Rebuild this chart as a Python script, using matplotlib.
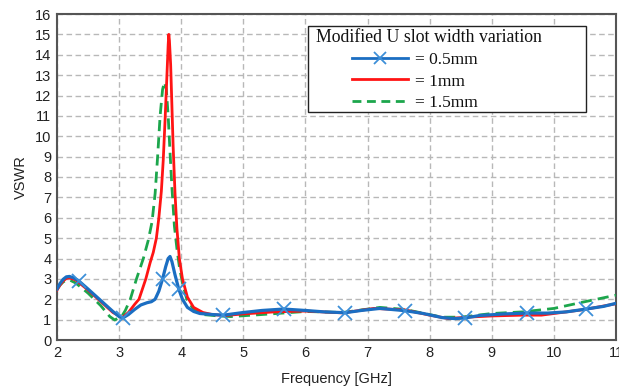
import matplotlib
matplotlib.use("Agg")
import matplotlib.pyplot as plt
from matplotlib.patches import Rectangle
from matplotlib.lines import Line2D

# ---- data -------------------------------------------------------------
blue_x = [2.0, 2.05, 2.1, 2.15, 2.2, 2.27, 2.35, 2.5, 2.7, 2.9, 3.0, 3.06, 3.15, 3.25,
          3.35, 3.45, 3.52, 3.58, 3.64, 3.7, 3.75, 3.79, 3.82, 3.85, 3.9, 3.96, 4.02,
          4.1, 4.2, 4.3, 4.5, 4.68, 5.0, 5.3, 5.65, 6.0, 6.3, 6.64, 6.9, 7.2, 7.6, 7.9,
          8.2, 8.4, 8.57, 8.8, 9.2, 9.57, 9.9, 10.2, 10.52, 10.8, 11.0]
blue_y = [2.5, 2.78, 2.98, 3.1, 3.12, 3.05, 2.9, 2.5, 1.95, 1.4, 1.15, 1.08, 1.25, 1.5,
          1.72, 1.83, 1.88, 2.0, 2.4, 3.0, 3.6, 4.0, 4.1, 3.85, 3.2, 2.5, 2.0,
          1.6, 1.4, 1.3, 1.25, 1.22, 1.35, 1.45, 1.52, 1.45, 1.38, 1.34, 1.45, 1.55, 1.44, 1.3,
          1.1, 1.05, 1.08, 1.2, 1.28, 1.32, 1.32, 1.38, 1.52, 1.65, 1.8]
blue_marker_x = [2.35, 3.06, 3.7, 3.96, 4.68, 5.65, 6.64, 7.6, 8.57, 9.57, 10.52]

red_x = [2.0, 2.05, 2.1, 2.15, 2.2, 2.3, 2.5, 2.7, 2.9, 3.05, 3.15, 3.25, 3.32, 3.43,
         3.5, 3.55, 3.6, 3.64, 3.68, 3.71, 3.74, 3.77, 3.79, 3.8, 3.81, 3.83, 3.85,
         3.87, 3.9, 3.93, 3.97, 4.02, 4.1, 4.2, 4.35, 4.5, 4.7, 5.0, 5.5, 6.0, 6.6,
         7.1, 7.6, 8.0, 8.3, 8.6, 9.0, 9.5, 9.8, 10.0, 10.5, 11.0]
red_y = [2.45, 2.7, 2.9, 3.02, 3.05, 2.95, 2.45, 1.9, 1.35, 1.1, 1.35, 1.75, 2.0, 3.0,
         3.8, 4.3, 5.0, 6.0, 7.3, 8.8, 10.8, 13.0, 14.5, 15.0, 14.7, 13.5, 11.5,
         9.5, 7.2, 5.5, 4.0, 3.0, 2.1, 1.6, 1.35, 1.25, 1.2, 1.28, 1.38, 1.42, 1.33,
         1.55, 1.48, 1.22, 1.05, 1.12, 1.18, 1.22, 1.22, 1.3, 1.5, 1.78]

green_x = [2.0, 2.05, 2.1, 2.15, 2.2, 2.3, 2.5, 2.7, 2.85, 2.93, 3.05, 3.1, 3.18, 3.28,
           3.39, 3.47, 3.53, 3.58, 3.62, 3.66, 3.7, 3.73, 3.76, 3.79, 3.82, 3.85,
           3.89, 3.93, 3.97, 4.02, 4.09, 4.2, 4.35, 4.6, 4.8, 5.3, 6.0, 6.6, 7.2, 7.6,
           8.2, 8.5, 9.0, 9.5, 10.0, 10.5, 11.0]
green_y = [2.5, 2.7, 2.85, 2.93, 2.95, 2.8, 2.3, 1.7, 1.15, 0.98, 1.2, 1.45, 2.0, 3.0,
           4.0, 4.9, 5.8, 7.2, 9.0, 11.0, 12.3, 12.66, 12.3, 11.0, 9.2, 7.5,
           5.6, 4.5, 3.6, 2.8, 2.0, 1.5, 1.25, 1.18, 1.15, 1.25, 1.4, 1.35, 1.6, 1.5,
           1.12, 1.12, 1.3, 1.38, 1.55, 1.88, 2.2]

labels = ["= 0.5mm", "= 1mm", "= 1.5mm"]
legend_title = "Modified U slot width variation"
x_ticks = [2, 3, 4, 5, 6, 7, 8, 9, 10, 11]
y_ticks = list(range(0, 17))

# ---- figure -----------------------------------------------------------
W, H = 619, 391
fig = plt.figure(figsize=(W / 100, H / 100), dpi=100)
ax = fig.add_axes([57 / W, 1 - 340 / H, (616 - 57) / W, (340 - 14) / H])

c_blue = "#1b6ec2"
c_mark = "#3d8fd8"
c_red = "#ff1414"
c_green = "#1ca64c"

ax.plot(green_x, green_y, color=c_green, lw=2.0, ls=(0, (4.0, 2.2)), zorder=3)
ax.plot(red_x, red_y, color=c_red, lw=2.0, zorder=4)
mk = [i for i, x in enumerate(blue_x) if x in blue_marker_x]
ax.plot(blue_x, blue_y, color=c_blue, lw=2.3, zorder=5, marker="x", markevery=mk,
        markersize=10, markeredgewidth=1.3, markeredgecolor=c_mark)

ax.set_xlim(2, 11)
ax.set_ylim(0, 16)
ax.set_xticks(x_ticks)
ax.set_yticks(y_ticks)
ax.set_xticklabels([str(t) for t in x_ticks])
ax.set_yticklabels([str(t) for t in y_ticks])
ax.tick_params(length=0, labelsize=10.5, colors="#222222", pad=4)
for lab in ax.get_xticklabels() + ax.get_yticklabels():
    lab.set_family("Liberation Sans")
ax.grid(True, color="#b8b8b8", lw=1.0, ls=(0, (4, 2.5)))
ax.set_axisbelow(True)
for s in ax.spines.values():
    s.set_color("#555555")
    s.set_linewidth(1.5)

ax.set_xlabel("Frequency [GHz]", fontsize=10.5, family="Liberation Sans",
              color="#222222", labelpad=9)
ax.set_ylabel("VSWR", fontsize=10.5, family="Liberation Sans", color="#222222",
              labelpad=5)

# ---- legend -----------------------------------------------------------
frame = Rectangle((308 / W, 1 - 112 / H), (586 - 308) / W, (112 - 26) / H,
                  transform=fig.transFigure, facecolor="white", edgecolor="#222222",
                  lw=1.0, zorder=10)
fig.patches.append(frame)
fig.text(316 / W, 1 - 38 / H, legend_title, family="Liberation Serif", fontsize=12.8,
         va="center", ha="left", color="#111111", zorder=11)

handles = [
    Line2D([], [], color=c_blue, lw=2.0, marker="x", markersize=9,
           markeredgewidth=1.3, markeredgecolor=c_mark),
    Line2D([], [], color=c_red, lw=2.0),
    Line2D([], [], color=c_green, lw=2.0, ls=(0, (3.2, 2.0))),
]
leg = fig.legend(handles, labels, loc="upper left",
                 bbox_to_anchor=(352 / W, 1 - 52 / H), frameon=False,
                 prop={"family": "Liberation Serif", "size": 12.5},
                 handlelength=3.2, handletextpad=0.45, labelspacing=0.3,
                 borderpad=0, borderaxespad=0, markerscale=1.0)
leg.set_zorder(12)
for t in leg.get_texts():
    t.set_color("#111111")

fig.savefig("out.png", dpi=100)
